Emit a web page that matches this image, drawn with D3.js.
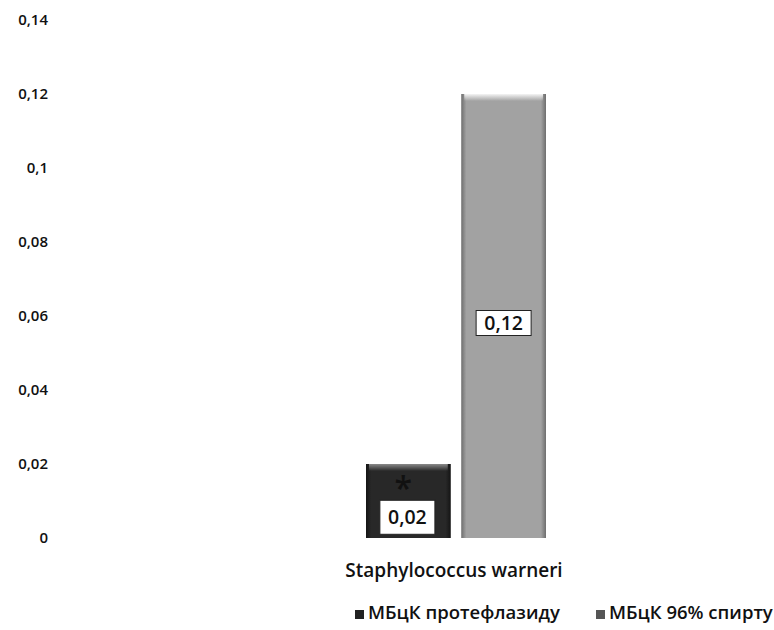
<!DOCTYPE html>
<html>
<head>
<meta charset="utf-8">
<script src="https://cdn.jsdelivr.net/npm/d3@7"></script>
<style>
  body { margin: 0; background: #fff; }
  text { font-family: "Open Sans", "Noto Sans", sans-serif; fill: #111; font-weight: 600; }
</style>
</head>
<body>
<div id="chart"></div>
<script>
const categories = ["Staphylococcus warneri"];
const seriesNames = ["МБцК протефлазиду", "МБцК 96% спирту"];
const seriesValues = [[0.02], [0.12]];
const valueLabels = [["0,02"], ["0,12"]];
const yTicks = [0, 0.02, 0.04, 0.06, 0.08, 0.1, 0.12, 0.14];
const yTickLabels = ["0", "0,02", "0,04", "0,06", "0,08", "0,1", "0,12", "0,14"];
const markers = [["*"], [""]];

const width = 774, height = 630;
const colors = ["#282828", "#a2a2a2"];
const edges = ["#141414", "#6e6e6e"];
const tops = ["#8a8a8a", "#f4f4f4"];

const svg = d3.select("#chart").append("svg")
  .attr("width", width).attr("height", height);

const defs = svg.append("defs");
colors.forEach((c, i) => {
  const g = defs.append("linearGradient").attr("id", "side" + i)
    .attr("x1", "0%").attr("x2", "100%").attr("y1", "0%").attr("y2", "0%");
  g.append("stop").attr("offset", "0%").attr("stop-color", edges[i]);
  g.append("stop").attr("offset", "6%").attr("stop-color", c);
  g.append("stop").attr("offset", "94%").attr("stop-color", c);
  g.append("stop").attr("offset", "100%").attr("stop-color", edges[i]);
  const t = defs.append("linearGradient").attr("id", "top" + i)
    .attr("x1", "0%").attr("x2", "0%").attr("y1", "0%").attr("y2", "100%");
  t.append("stop").attr("offset", "0%").attr("stop-color", tops[i]).attr("stop-opacity", 1);
  t.append("stop").attr("offset", "100%").attr("stop-color", tops[i]).attr("stop-opacity", 0);
});

const y = d3.scaleLinear().domain([0, 0.14]).range([538, 20]);
const x0 = d3.scaleBand().domain(categories).range([140, 770]).padding(0);
const x1 = d3.scaleBand().domain(d3.range(seriesNames.length))
  .range([x0.bandwidth() / 2 - 89, x0.bandwidth() / 2 + 91]).paddingInner(0.11).paddingOuter(0);

// y axis labels only
const yAxis = d3.axisLeft(y).tickValues(yTicks)
  .tickFormat((d, i) => yTickLabels[i]).tickSize(0).tickPadding(0);
const ya = svg.append("g").attr("transform", "translate(48,0)").call(yAxis);
ya.select(".domain").remove();
ya.selectAll("text").style("font-size", "15px").style("font-weight", "600")
  .style("font-family", "'Open Sans', sans-serif").attr("fill", "#111");

// bars
categories.forEach((cat, ci) => {
  const g = svg.append("g").attr("transform", `translate(${x0(cat)},0)`);
  seriesNames.forEach((s, si) => {
    const v = seriesValues[si][ci];
    const bx = x1(si), bw = x1.bandwidth();
    const by = y(v), bh = y(0) - y(v);
    g.append("rect").attr("x", bx).attr("y", by).attr("width", bw).attr("height", bh)
      .attr("fill", `url(#side${si})`);
    g.append("rect").attr("x", bx + 3).attr("y", by).attr("width", bw - 6).attr("height", 7)
      .attr("fill", `url(#top${si})`);
    // value label
    const cx = bx + bw / 2;
    const ly = si === 0 ? by + (bh) * 0.72 : y(v / 2) + 7;
    const bwid = 55, bht = si === 0 ? 34 : 25;
    g.append("rect").attr("x", cx - bwid / 2 + (si === 0 ? -1 : 0))
      .attr("y", ly - bht / 2).attr("width", bwid).attr("height", bht)
      .attr("fill", "#fff").attr("stroke", "#222").attr("stroke-width", 1);
    g.append("text").attr("x", cx + (si === 0 ? -1 : 0)).attr("y", ly + 7)
      .attr("text-anchor", "middle").style("font-size", "19.5px").text(valueLabels[si][ci]);
    if (markers[si][ci]) {
      g.append("text").attr("x", cx - 5).attr("y", by + 36)
        .attr("text-anchor", "middle").style("font-size", "32px").attr("fill", "#111")
        .text(markers[si][ci]);
    }
  });
  g.append("text").attr("x", x0.bandwidth() / 2 - 1).attr("y", 577)
    .attr("text-anchor", "middle").style("font-size", "19px").text(cat);
});

// legend
const legendX = [355, 596];
const lg = svg.append("g");
seriesNames.forEach((s, i) => {
  lg.append("rect").attr("x", legendX[i]).attr("y", 610).attr("width", 9).attr("height", 9)
    .attr("fill", colors[i] === "#a2a2a2" ? "#555" : "#222");
  lg.append("text").attr("x", legendX[i] + 13).attr("y", 619)
    .style("font-size", "18.5px").text(s);
});
</script>
</body>
</html>
